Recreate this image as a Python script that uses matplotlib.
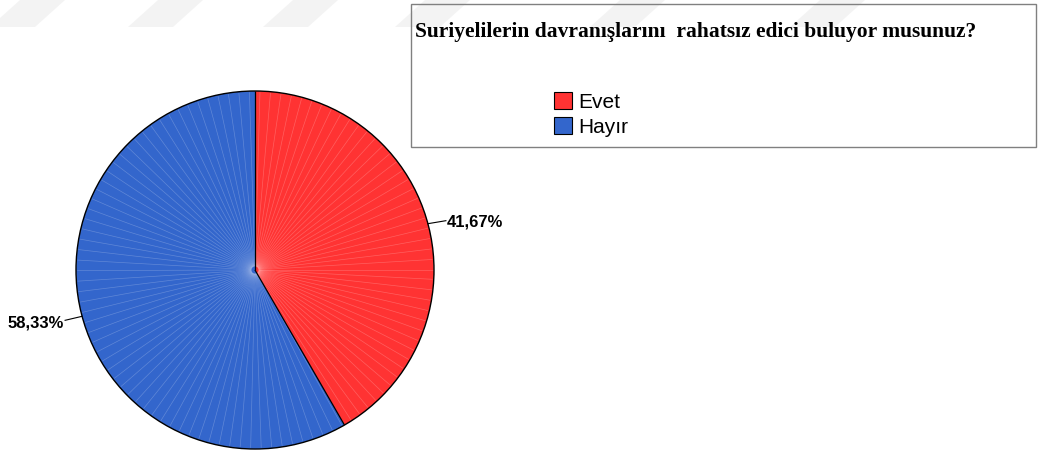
import matplotlib
matplotlib.use("Agg")
import matplotlib.pyplot as plt
import numpy as np
from matplotlib.patches import Rectangle, Polygon

categories = ["Evet", "Hayır"]
values = [41.67, 58.33]
labels = ["41,67%", "58,33%"]
colors = ["#ff3333", "#3366cc"]
title = "Suriyelilerin davranışlarını  rahatsız edici buluyor musunuz?"

W, H = 1038, 450
fig = plt.figure(figsize=(W / 100, H / 100), dpi=100)
ax = fig.add_axes([0, 0, 1, 1])
ax.set_xlim(0, W)
ax.set_ylim(0, H)
ax.set_aspect("equal")
ax.axis("off")

cx, cy, R = 255, 180, 179

# faint watermark shapes at top
for a in [-10, 128, 263, 395, 590, 790]:
    poly = Polygon([(a, H - 27), (a + 45, H - 27), (a + 75, H), (a + 30, H)],
                   closed=True, facecolor="#ececec", edgecolor="none",
                   alpha=0.6, zorder=0)
    ax.add_patch(poly)

wedges, _ = ax.pie(values, colors=colors, startangle=90, counterclock=False,
                   center=(cx, cy), radius=R, frame=True,
                   wedgeprops=dict(edgecolor="none", linewidth=0))
ax.set_xlim(0, W)
ax.set_ylim(0, H)
ax.axis("off")

# thin white radial lines (SPSS gradient style)
for ang in np.arange(0, 360, 3.4):
    t = np.deg2rad(ang)
    ax.plot([cx + 4 * np.cos(t), cx + (R - 1.5) * np.cos(t)],
            [cy + 4 * np.sin(t), cy + (R - 1.5) * np.sin(t)],
            color="white", lw=0.5, alpha=0.22, zorder=3)

for w in wedges:
    w.set_zorder(2)
# wedge boundaries
for th in {round(w.theta1, 6) % 360 for w in wedges} | {round(w.theta2, 6) % 360 for w in wedges}:
    t = np.deg2rad(th)
    ax.plot([cx, cx + R * np.cos(t)], [cy, cy + R * np.sin(t)],
            color="black", lw=0.9, zorder=4, solid_capstyle="butt")
circ = plt.Circle((cx, cy), R, fill=False, edgecolor="black", lw=1.0, zorder=4)
ax.add_patch(circ)

# percentage labels with leader lines
for w, lab in zip(wedges, labels):
    mid = np.deg2rad((w.theta1 + w.theta2) / 2)
    x0, y0 = cx + R * np.cos(mid), cy + R * np.sin(mid)
    if np.cos(mid) >= 0:
        x1, y1 = x0 + 18, y0 + 3
        ax.plot([x0, x1], [y0, y1], color="black", lw=0.8, zorder=5)
        ax.text(x1 + 1, y1 - 1, lab, ha="left", va="center", fontsize=12,
                fontweight="bold", family="Liberation Sans", zorder=5)
    else:
        x1, y1 = x0 - 17, y0 - 4
        ax.plot([x0, x1], [y0, y1], color="black", lw=0.8, zorder=5)
        ax.text(x1 - 1, y1 - 3, lab, ha="right", va="center", fontsize=12,
                fontweight="bold", family="Liberation Sans", zorder=5)

# legend box
box = Rectangle((411, H - 147), W - 411 - 2, 143, facecolor="none",
                edgecolor="#808080", lw=1.0, zorder=6, clip_on=False)
ax.add_patch(box)
ax.text(415, H - 32, title, ha="left", va="center", fontsize=15.5,
        fontweight="bold", family="Liberation Serif", zorder=7)

leg = ax.legend(wedges, categories, loc="upper left",
                bbox_to_anchor=(554 / W, 1 - 92 / H), frameon=False,
                handlelength=0.87, handleheight=0.85, handletextpad=0.3,
                labelspacing=0.27, borderpad=0, borderaxespad=0,
                prop={"family": "Liberation Sans", "size": 15})
for hnd in leg.legend_handles:
    hnd.set_edgecolor("black")
    hnd.set_linewidth(0.8)

fig.savefig("out.png", dpi=100)
